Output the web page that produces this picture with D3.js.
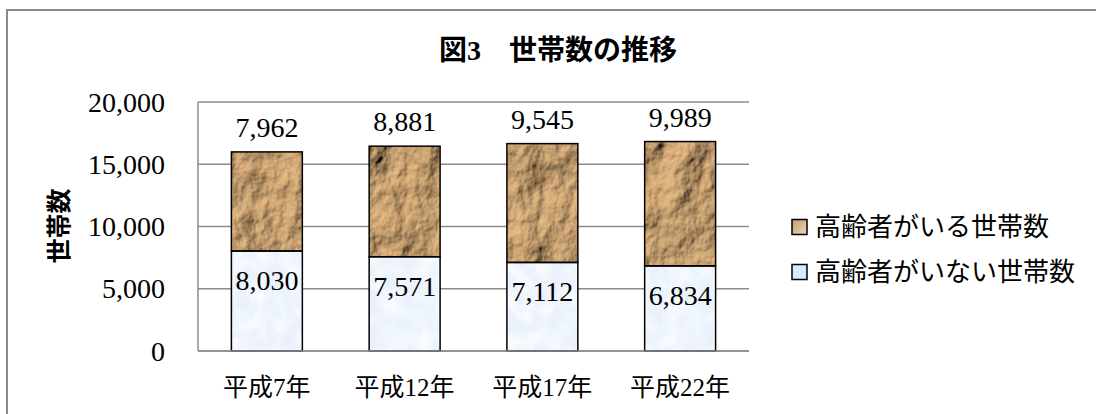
<!DOCTYPE html>
<html><head><meta charset="utf-8">
<script src="https://cdn.jsdelivr.net/npm/d3@7"></script>
<style>
html,body{margin:0;padding:0;background:#fff;}
svg{display:block;}
</style></head>
<body>
<script>
const title = "図3　世帯数の推移";
const yTitle = "世帯数";
const categories = ["平成7年", "平成12年", "平成17年", "平成22年"];
const seriesNames = ["高齢者がいる世帯数", "高齢者がいない世帯数"];
const withElderly = [7962, 8881, 9545, 9989];
const withoutElderly = [8030, 7571, 7112, 6834];
const yTicks = [0, 5000, 10000, 15000, 20000];

const W = 1096, H = 414;
const numFont = "'Liberation Serif', 'Noto Sans CJK JP', serif";
const cjkFont = "'Liberation Serif', 'Noto Sans CJK JP', sans-serif";

const svg = d3.select("body").append("svg").attr("width", W).attr("height", H);
const defs = svg.append("defs");

// rock texture (brown) via lighting on noise
const fRock = defs.append("filter").attr("id", "rock")
  .attr("x", 0).attr("y", 0).attr("width", "100%").attr("height", "100%");
fRock.append("feTurbulence").attr("type", "fractalNoise").attr("baseFrequency", "0.024 0.018")
  .attr("numOctaves", 5).attr("seed", 11).attr("result", "n");
const lit = fRock.append("feDiffuseLighting").attr("in", "n").attr("lighting-color", "#e8bb84")
  .attr("surfaceScale", 10).attr("diffuseConstant", 1.05).attr("result", "l");
lit.append("feDistantLight").attr("azimuth", 225).attr("elevation", 40);
fRock.append("feComposite").attr("in", "l").attr("in2", "SourceGraphic").attr("operator", "in");

// light blue texture
const fIce = defs.append("filter").attr("id", "ice")
  .attr("x", 0).attr("y", 0).attr("width", "100%").attr("height", "100%");
fIce.append("feTurbulence").attr("type", "fractalNoise").attr("baseFrequency", "0.06")
  .attr("numOctaves", 3).attr("seed", 3).attr("result", "n");
fIce.append("feColorMatrix").attr("in", "n").attr("type", "matrix")
  .attr("values", "2 0 0 0 -0.5  2 0 0 0 -0.5  2 0 0 0 -0.5  0 0 0 0 1").attr("result", "g");
const ci = fIce.append("feComponentTransfer").attr("in", "g").attr("result", "c");
ci.append("feFuncR").attr("type", "table").attr("tableValues", "0.82 0.85 0.89 0.94");
ci.append("feFuncG").attr("type", "table").attr("tableValues", "0.88 0.90 0.93 0.96");
ci.append("feFuncB").attr("type", "table").attr("tableValues", "0.96 0.97 0.99 1.0");
fIce.append("feComposite").attr("in", "c").attr("in2", "SourceGraphic").attr("operator", "in");

const legGrad = defs.append("linearGradient").attr("id", "legBrown")
  .attr("x1", 0).attr("y1", 0).attr("x2", 1).attr("y2", 1);
legGrad.append("stop").attr("offset", "0%").attr("stop-color", "#c29d70");
legGrad.append("stop").attr("offset", "100%").attr("stop-color", "#ecd6b4");

// outer border
svg.append("rect").attr("x", 7).attr("y", 10).attr("width", W + 20).attr("height", H + 20)
  .attr("fill", "none").attr("stroke", "#8a8a8a").attr("stroke-width", 2);

const x = d3.scaleBand().domain(categories).range([198, 749])
  .paddingInner(0.485).paddingOuter(0.2425);
const y = d3.scaleLinear().domain([0, 20000]).range([351, 102]);

// gridlines
svg.append("g").selectAll("line").data(yTicks).join("line")
  .attr("x1", 198).attr("x2", 749)
  .attr("y1", d => y(d)).attr("y2", d => y(d))
  .attr("stroke", "#8c8c8c").attr("stroke-width", 1.5);
svg.append("line").attr("x1", 198).attr("x2", 198).attr("y1", y(20000)).attr("y2", y(0))
  .attr("stroke", "#8c8c8c").attr("stroke-width", 1.5);

// y tick labels
svg.append("g").selectAll("text").data(yTicks).join("text")
  .attr("x", 165).attr("y", d => y(d)).attr("dy", "0.34em")
  .attr("text-anchor", "end").attr("font-family", numFont).attr("font-size", 28)
  .attr("fill", "#000").text(d => d3.format(",")(d));

// y title
svg.append("text").attr("transform", "translate(59,226) rotate(-90)")
  .attr("text-anchor", "middle").attr("dominant-baseline", "central")
  .attr("font-family", cjkFont).attr("font-size", 25).attr("font-weight", "bold")
  .text(yTitle);

// bars
const data = categories.map((c, i) => ({ c, a: withoutElderly[i], b: withElderly[i] }));
const g = svg.append("g");
g.selectAll("rect.low").data(data).join("rect").attr("class", "low")
  .attr("x", d => x(d.c)).attr("width", x.bandwidth())
  .attr("y", d => y(d.a)).attr("height", d => y(0) - y(d.a))
  .attr("fill", "#dce9f8").attr("filter", "url(#ice)");
g.selectAll("rect.high").data(data).join("rect").attr("class", "high")
  .attr("x", d => x(d.c)).attr("width", x.bandwidth())
  .attr("y", d => y(d.a + d.b)).attr("height", d => y(d.a) - y(d.a + d.b))
  .attr("fill", "#a8865d").attr("filter", "url(#rock)");
g.selectAll("rect.lowS").data(data).join("rect")
  .attr("x", d => x(d.c)).attr("width", x.bandwidth())
  .attr("y", d => y(d.a)).attr("height", d => y(0) - y(d.a))
  .attr("fill", "none").attr("stroke", "#000").attr("stroke-width", 1.5);
g.selectAll("rect.highS").data(data).join("rect")
  .attr("x", d => x(d.c)).attr("width", x.bandwidth())
  .attr("y", d => y(d.a + d.b)).attr("height", d => y(d.a) - y(d.a + d.b))
  .attr("fill", "none").attr("stroke", "#000").attr("stroke-width", 1.5);

// bottom axis line over bars
svg.append("line").attr("x1", 198).attr("x2", 749).attr("y1", y(0)).attr("y2", y(0))
  .attr("stroke", "#8c8c8c").attr("stroke-width", 1.5);

// value labels
g.selectAll("text.top").data(data).join("text")
  .attr("x", d => x(d.c) + x.bandwidth() / 2).attr("y", d => y(d.a + d.b) - 15)
  .attr("text-anchor", "middle").attr("font-family", numFont).attr("font-size", 28)
  .text(d => d3.format(",")(d.b));
g.selectAll("text.in").data(data).join("text")
  .attr("x", d => x(d.c) + x.bandwidth() / 2).attr("y", d => y(d.a) + 39)
  .attr("text-anchor", "middle").attr("font-family", numFont).attr("font-size", 28)
  .text(d => d3.format(",")(d.a));

// x labels
svg.append("g").selectAll("text").data(categories).join("text")
  .attr("x", d => x(d) + x.bandwidth() / 2).attr("y", 387)
  .attr("text-anchor", "middle").attr("dominant-baseline", "central")
  .attr("font-family", cjkFont).attr("font-size", 25).text(d => d);

// title
svg.append("text").attr("x", 558).attr("y", 60).attr("text-anchor", "middle")
  .attr("font-family", cjkFont).attr("font-size", 28).attr("font-weight", "bold")
  .text(title);

// legend
const leg = svg.append("g");
const legFills = ["url(#legBrown)", "#dce9f8"];
const legY = [227, 272];
seriesNames.forEach((s, i) => {
  leg.append("rect").attr("x", 792).attr("y", legY[i] - 7.5).attr("width", 15).attr("height", 15)
    .attr("fill", legFills[i]).attr("stroke", "#000").attr("stroke-width", 1.5);
  leg.append("text").attr("x", 815).attr("y", legY[i]).attr("dominant-baseline", "central")
    .attr("font-family", cjkFont).attr("font-size", 26).text(s);
});
</script>
</body></html>
